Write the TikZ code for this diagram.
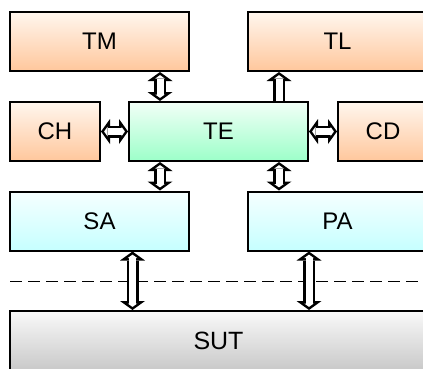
\documentclass[tikz,border=0pt]{standalone}
\usepackage{fontspec}
\setmainfont{Liberation Sans}
\usetikzlibrary{arrows.meta}
\definecolor{peachtop}{HTML}{FFF6EE}
\definecolor{peachbot}{HTML}{FFC79C}
\definecolor{mint}{HTML}{9CFFC9}
\definecolor{minttop}{HTML}{F2FFF7}
\definecolor{skytop}{HTML}{F6FFFF}
\definecolor{skybot}{HTML}{C6FFFF}
\definecolor{greytop}{HTML}{F9F9F9}
\definecolor{greybot}{HTML}{C9C9C9}

\begin{document}
\begin{tikzpicture}[x=1pt, y=-1pt,
    box/.style={draw=black, line width=2pt, minimum height=59pt, inner sep=0pt,
      font=\fontsize{24}{28}\selectfont},
    wide/.style={box, minimum width=179pt},
    narrow/.style={box, minimum width=90pt},
    peach/.style={top color=peachtop, bottom color=peachbot},
    bothway/.style={white, line width=7pt,
      {Triangle[length=3.4pt,width=9.5pt,line width=0pt]}-{Triangle[length=3.4pt,width=9.5pt,line width=0pt]},
      shorten <=3.1pt, shorten >=3.1pt,
      preaction={draw=black, line width=12pt,
        {Triangle[length=9pt,width=25pt,line width=0pt]}-{Triangle[length=9pt,width=25pt,line width=0pt]},
        shorten <=0pt, shorten >=0pt}},
    oneway/.style={white, line width=7pt,
      -{Triangle[length=3.4pt,width=9.5pt,line width=0pt]}, shorten >=3.1pt,
      preaction={draw=black, line width=12pt,
        -{Triangle[length=9pt,width=25pt,line width=0pt]}, shorten >=0pt}}]
  \useasboundingbox (0,0) rectangle (423,368);
  \clip (0,0) rectangle (423,368);
  \fill[white] (0,0) rectangle (423,368);

  % tester side
  \node[wide, peach] (TM) at (99.5,41.5) {TM};
  \node[wide, peach] (TL) at (337.5,41.5) {TL};
  \node[narrow, peach] (CH) at (55,131.5) {CH};
  \node[wide, top color=minttop, bottom color=mint] (TE) at (218.5,131.5) {TE};
  \node[narrow, peach] (CD) at (383,131.5) {CD};
  \node[wide, top color=skytop, bottom color=skybot] (SA) at (99.5,221) {SA};
  \node[wide, top color=skytop, bottom color=skybot] (PA) at (337.5,221) {PA};

  % system under test
  \node[box, minimum width=417pt, top color=greytop, bottom color=greybot,
    font=\fontsize{25}{29}\selectfont] (SUT) at (218.5,340.5) {SUT};
  \draw[line width=1pt, dash pattern=on 11.5pt off 6.5pt] (10,281) -- (430,281);

  % x positions of the vertical links
  \coordinate (c1) at (160,0);
  \coordinate (c2) at (279,0);
  \coordinate (c3) at (132.5,0);
  \coordinate (c4) at (309,0);

  \draw[bothway] (TM.south -| c1) -- (TE.north -| c1);
  \draw[oneway] (TE.north -| c2) -- (TL.south -| c2);
  \draw[bothway] (CH.east) -- (TE.west);
  \draw[bothway] (TE.east) -- (CD.west);
  \draw[bothway] (TE.south -| c1) -- (SA.north -| c1);
  \draw[bothway] (TE.south -| c2) -- (PA.north -| c2);
  \draw[bothway] (SA.south -| c3) -- (SUT.north -| c3);
  \draw[bothway] (PA.south -| c4) -- (SUT.north -| c4);
\end{tikzpicture}
\end{document}
